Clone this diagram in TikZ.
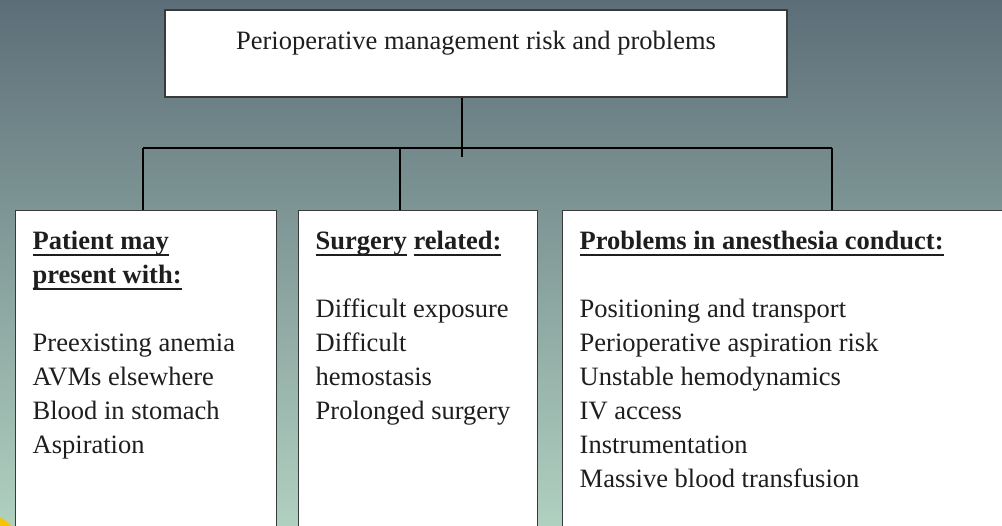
\documentclass[tikz,border=0pt]{standalone}
\usepackage{fontspec}
\setmainfont{Liberation Serif}
\usepackage{tikz}
\usetikzlibrary{positioning,calc}

\definecolor{slatetop}{HTML}{5C6E78}
\definecolor{slatemid}{HTML}{7F9696}
\definecolor{slatebot}{HTML}{B0D0C0}
\definecolor{boxgray}{HTML}{3A3A3A}
\definecolor{inkgray}{HTML}{1E1E1E}
\definecolor{sunyellow}{HTML}{F2C40C}

% underlined heading words
\newlength{\hdlen}
\newcommand{\hdline}[1]{\leavevmode\settowidth{\hdlen}{\bfseries #1}%
  \rlap{\rule[-7pt]{\hdlen}{1.6pt}}{\bfseries #1}}

\begin{document}
\begin{tikzpicture}[x=1pt, y=-1pt,
      every node/.style={font=\fontsize{26.5}{34}\selectfont, text=inkgray},
      titlebox/.style={draw=boxgray, line width=1.4pt, fill=white,
        minimum width=622pt, text height=20pt, text depth=27pt, inner ysep=20pt},
      branchbox/.style={draw=boxgray, line width=1.4pt, fill=white,
        anchor=north west, inner xsep=17pt, inner ysep=20pt},
      link/.style={draw=black, line width=1.3pt}]
    \useasboundingbox (0,0) rectangle (1002,526);
    \clip (0,0) rectangle (1002,526);
    \fill[top color=slatetop, middle color=slatemid, bottom color=slatebot] (0,0) rectangle (1002,526);
    \fill[sunyellow] (-8,540) circle (24);

    \node[titlebox] (top) at (476,53.5) {Perioperative management risk and problems};

    % the three branches
    \node[branchbox] (patient) at (15,210) {%
      \begin{minipage}[t][295pt][t]{227pt}\raggedright
        \hdline{Patient may}\\
        \hdline{present with:}\\[34pt]
        Preexisting anemia\\
        AVMs elsewhere\\
        Blood in stomach\\
        Aspiration
      \end{minipage}};
    \node[branchbox] (surgery) at (298,210) {%
      \begin{minipage}[t][295pt][t]{205pt}\raggedright
        \hdline{Surgery} \hdline{related:}\\[34pt]
        Difficult exposure\\
        Difficult\\
        hemostasis\\
        Prolonged surgery
      \end{minipage}};
    \node[branchbox] (conduct) at (562,210) {%
      \begin{minipage}[t][295pt][t]{424pt}\raggedright
        \hdline{Problems in anesthesia conduct:}\\[34pt]
        Positioning and transport\\
        Perioperative aspiration risk\\
        Unstable hemodynamics\\
        IV access\\
        Instrumentation\\
        Massive blood transfusion
      \end{minipage}};

    \coordinate (hub) at (462,148);
    \coordinate (stemend) at (462,157);
    \coordinate (tapL) at (143,148);
    \coordinate (tapM) at (400,148);
    \coordinate (tapR) at (832,148);

    \draw[link] (top.south -| hub) -- (stemend);
    \draw[link] (tapL) -- (tapR);
    \draw[link] (tapL) -- (tapL |- patient.north);
    \draw[link] (tapM) -- (tapM |- surgery.north);
    \draw[link] (tapR) -- (tapR |- conduct.north);
\end{tikzpicture}
\end{document}
